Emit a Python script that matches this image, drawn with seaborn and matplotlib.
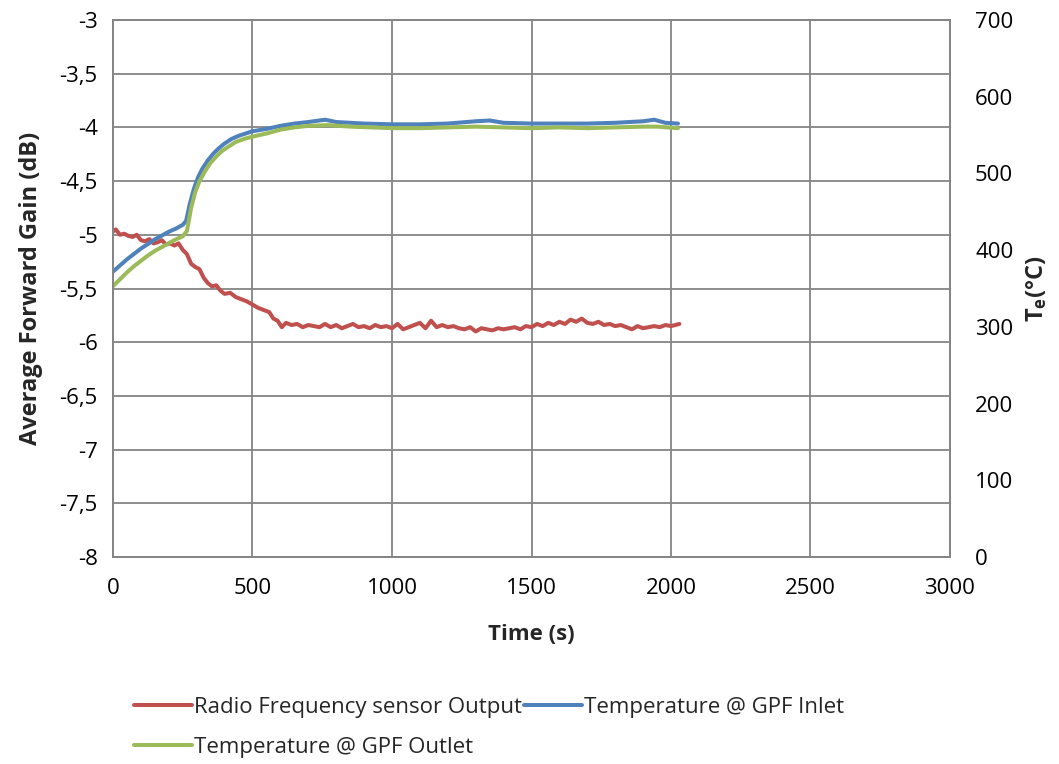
import matplotlib
matplotlib.use("Agg")
import matplotlib.pyplot as plt
import seaborn as sns
import pandas as pd

# ---- data ----
rf_time = [0, 10, 25, 40, 55, 70, 85, 100, 115, 130, 145, 160, 175, 190, 205, 220, 235, 250,
           265, 280, 295, 310, 325, 340, 355, 370, 385, 400, 420, 440, 460, 480, 500, 520,
           540, 560, 575, 590, 605, 620, 640, 660, 680, 700, 720, 740, 760, 780, 800, 820,
           840, 860, 880, 900, 920, 940, 960, 980, 1000, 1020, 1040, 1060, 1080, 1100, 1120,
           1140, 1160, 1180, 1200, 1220, 1240, 1260, 1280, 1300, 1320, 1340, 1360, 1380, 1400,
           1420, 1440, 1460, 1480, 1500, 1520, 1540, 1560, 1580, 1600, 1620, 1640, 1660, 1680,
           1700, 1720, 1740, 1760, 1780, 1800, 1820, 1840, 1860, 1880, 1900, 1920, 1940, 1960,
           1980, 2000, 2030]
rf_gain = [-4.97, -4.95, -5.00, -4.99, -5.01, -5.02, -5.00, -5.05, -5.06, -5.04, -5.08, -5.07,
           -5.05, -5.09, -5.08, -5.10, -5.08, -5.14, -5.18, -5.27, -5.30, -5.32, -5.40, -5.45,
           -5.48, -5.47, -5.52, -5.55, -5.54, -5.58, -5.60, -5.62, -5.65, -5.68, -5.70, -5.72,
           -5.78, -5.80, -5.86, -5.82, -5.84, -5.83, -5.86, -5.84, -5.85, -5.86, -5.83, -5.86,
           -5.84, -5.87, -5.85, -5.83, -5.86, -5.85, -5.87, -5.84, -5.86, -5.85, -5.87, -5.83,
           -5.88, -5.86, -5.84, -5.82, -5.87, -5.80, -5.86, -5.84, -5.86, -5.85, -5.87, -5.88,
           -5.86, -5.90, -5.87, -5.88, -5.89, -5.87, -5.88, -5.87, -5.86, -5.88, -5.85, -5.86,
           -5.83, -5.85, -5.82, -5.84, -5.81, -5.83, -5.79, -5.81, -5.78, -5.82, -5.83, -5.81,
           -5.84, -5.83, -5.85, -5.84, -5.86, -5.88, -5.85, -5.87, -5.86, -5.85, -5.86, -5.84,
           -5.85, -5.83]

inlet_time = [0, 25, 50, 75, 100, 125, 150, 175, 200, 225, 250, 262, 275, 290, 305, 320, 340,
              360, 380, 400, 425, 450, 475, 500, 550, 600, 650, 700, 760, 800, 900, 1000, 1100,
              1200, 1300, 1350, 1400, 1500, 1600, 1700, 1800, 1900, 1940, 1980, 2025]
inlet_temp = [372, 380, 388, 395, 402, 408, 414, 419, 424, 428, 433, 438, 460, 480, 495, 506,
              517, 526, 533, 539, 545, 549, 552, 555, 558, 562, 565, 567, 570, 567, 565, 564,
              564, 565, 568, 569, 566, 565, 565, 565, 566, 568, 570, 566, 565]

outlet_time = [0, 25, 50, 75, 100, 125, 150, 175, 200, 225, 250, 265, 280, 295, 310, 330, 350,
               370, 390, 410, 440, 470, 500, 550, 600, 650, 700, 770, 850, 1000, 1100, 1200,
               1300, 1400, 1500, 1600, 1700, 1800, 1900, 1950, 2025]
outlet_temp = [353, 362, 371, 379, 386, 393, 399, 404, 409, 414, 418, 425, 455, 476, 490, 503,
               514, 522, 529, 534, 541, 545, 548, 552, 557, 560, 562, 563, 561, 559, 559, 560,
               561, 560, 559, 560, 559, 560, 561, 561, 559]

left_ticks = [-3, -3.5, -4, -4.5, -5, -5.5, -6, -6.5, -7, -7.5, -8]
left_tick_labels = ["-3", "-3,5", "-4", "-4,5", "-5", "-5,5", "-6", "-6,5", "-7", "-7,5", "-8"]
right_ticks = [0, 100, 200, 300, 400, 500, 600, 700]
x_ticks = [0, 500, 1000, 1500, 2000, 2500, 3000]

label_rf = "Radio Frequency sensor Output"
label_in = "Temperature @ GPF Inlet"
label_out = "Temperature @ GPF Outlet"

# ---- style ----
sns.set_theme(style="white")
plt.rcParams['font.family'] = ['Open Sans', 'DejaVu Sans']
plt.rcParams['mathtext.fontset'] = 'custom'
plt.rcParams['mathtext.bf'] = 'Open Sans:bold'
plt.rcParams['mathtext.rm'] = 'Open Sans'

c_red = "#C0504D"
c_blue = "#4F81BD"
c_green = "#9BBB59"
grid_c = "#858585"
FS = 16

fig = plt.figure(figsize=(10.59, 7.64), dpi=100)
ax = fig.add_axes([113/1059, 1-557/764, (950-113)/1059, (557-20)/764])
ax2 = ax.twinx()

df_rf = pd.DataFrame({"t": rf_time, "v": rf_gain})
df_in = pd.DataFrame({"t": inlet_time, "v": inlet_temp})
df_out = pd.DataFrame({"t": outlet_time, "v": outlet_temp})

LW = 2.9
sns.lineplot(data=df_rf, x="t", y="v", ax=ax, color=c_red, linewidth=LW, label=label_rf, legend=False)
sns.lineplot(data=df_in, x="t", y="v", ax=ax2, color=c_blue, linewidth=LW, label=label_in, legend=False)
sns.lineplot(data=df_out, x="t", y="v", ax=ax2, color=c_green, linewidth=LW, label=label_out, legend=False)

ax.set_xlim(0, 3000)
ax.set_ylim(-8, -3)
ax2.set_ylim(0, 700)
ax.set_xticks(x_ticks)
ax.set_xticklabels([str(v) for v in x_ticks])
ax.set_yticks(left_ticks)
ax.set_yticklabels(left_tick_labels)
ax2.set_yticks(right_ticks)
ax2.set_yticklabels([str(v) for v in right_ticks])

ax.grid(True, color=grid_c, linewidth=1.3)
ax.set_axisbelow(True)
for a in (ax, ax2):
    for s in a.spines.values():
        s.set_color(grid_c)
        s.set_linewidth(1.3)
    a.tick_params(length=0, labelsize=FS, colors="black")
ax.tick_params(axis='x', pad=15)
ax.tick_params(axis='y', pad=11)
ax2.tick_params(axis='y', pad=18)

ax.set_xlabel("Time (s)", fontsize=FS, fontweight="bold", labelpad=18)
ax.set_ylabel("Average Forward Gain (dB)", fontsize=17, fontweight="bold", labelpad=12)
ax2.set_ylabel(r"$\mathbf{T_e}$(°C)", fontsize=17, fontweight="bold", labelpad=8)

h1, l1 = ax.get_legend_handles_labels()
h2, l2 = ax2.get_legend_handles_labels()
handles = [h1[0], h2[1], h2[0]]
labels = [l1[0], l2[1], l2[0]]
fig.legend(handles, labels, loc="upper left", bbox_to_anchor=(123/1059, 1-686/764),
           ncol=2, frameon=False, fontsize=FS, handlelength=2.6, handletextpad=0.1,
           columnspacing=0.1, labelspacing=0.85, borderpad=0)

fig.savefig("out.png", dpi=100)
